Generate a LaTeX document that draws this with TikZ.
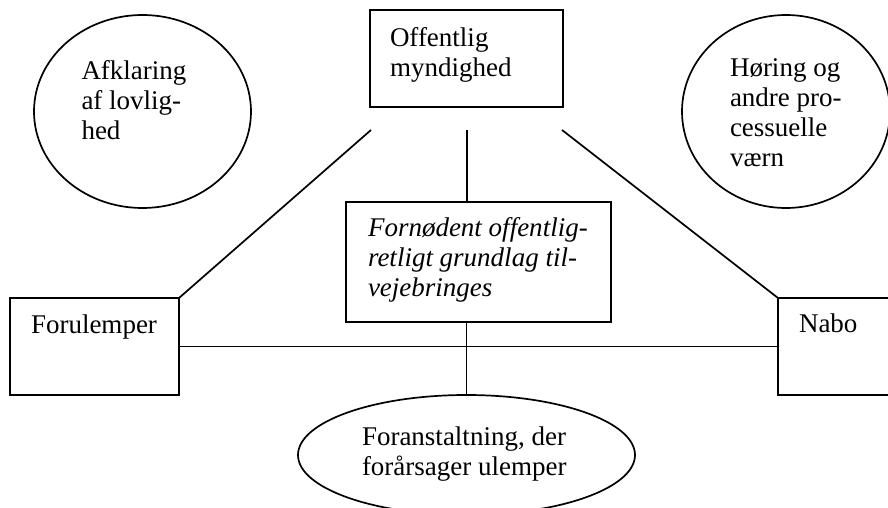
\documentclass[tikz,border=0pt]{standalone}
\usepackage{fontspec}
\setmainfont{Liberation Serif}
\usetikzlibrary{shapes.geometric}
\tikzset{
  shp/.style={draw=black, line width=1.7bp, inner sep=0pt, outer sep=0pt},
  boxshape/.style={shp, rectangle},
  ellshape/.style={shp, ellipse},
  txt/.style={anchor=base west, inner sep=0pt, outer sep=0pt,
    font=\fontsize{27bp}{30bp}\selectfont},
  con/.style={draw=black, line width=1.7bp}
}
\begin{document}
\begin{tikzpicture}[x=1bp, y=-1bp]
\useasboundingbox (0,0) rectangle (888,508);
\clip (0,0) rectangle (888,508);
% shapes
\node[ellshape, minimum width=217bp, minimum height=193bp] (lov) at (142.5,111.5) {};
\node[ellshape, minimum width=208bp, minimum height=193bp] (hor) at (786,111.5) {};
\node[boxshape, minimum width=193bp, minimum height=97bp] (om) at (466.5,58.5) {};
\node[boxshape, minimum width=265bp, minimum height=120bp] (fn) at (478.5,262) {};
\node[boxshape, minimum width=169bp, minimum height=97bp] (fo) at (94.5,346.5) {};
\node[boxshape, minimum width=172bp, minimum height=97bp] (nb) at (864,346.5) {};
\node[ellshape, minimum width=337bp, minimum height=120bp] (fa) at (466.5,455) {};
% texts
\node[txt] (tlov) at (81.5,80) {\vtop{\hbox{Afklaring}\hbox{af lovlig-}\hbox{hed}}};
\node[txt] (thor) at (730,77) {\vtop{\hbox{Høring og}\hbox{andre pro-}\hbox{cessuelle}\hbox{værn}}};
\node[txt] (tom) at (390,47) {\vtop{\hbox{Offentlig}\hbox{myndighed}}};
\node[txt] (tfn) at (368,237) {\itshape\vtop{\hbox{Fornødent offentlig-}\hbox{retligt grundlag til-}\hbox{vejebringes}}};
\node[txt] (tfo) at (31,334) {Forulemper};
\node[txt] (tnb) at (799,333) {Nabo};
\node[txt] (tfa) at (362,445) {\vtop{\hbox{Foranstaltning, der}\hbox{forårsager ulemper}}};
% connector free ends
\coordinate (c1) at (371,130);
\coordinate (c2) at (467,130);
\coordinate (c3) at (562,130);
% connectors
\draw[con] (c1) -- (fo.north east);
\draw[con] (c3) -- (nb.north west);
\draw[con] (c2) -- (c2 |- fn.north);
\draw[con] (fo.east) -- (nb.west);
\draw[con] (fa.north |- fn.south) -- (fa.north);
\end{tikzpicture}
\end{document}
